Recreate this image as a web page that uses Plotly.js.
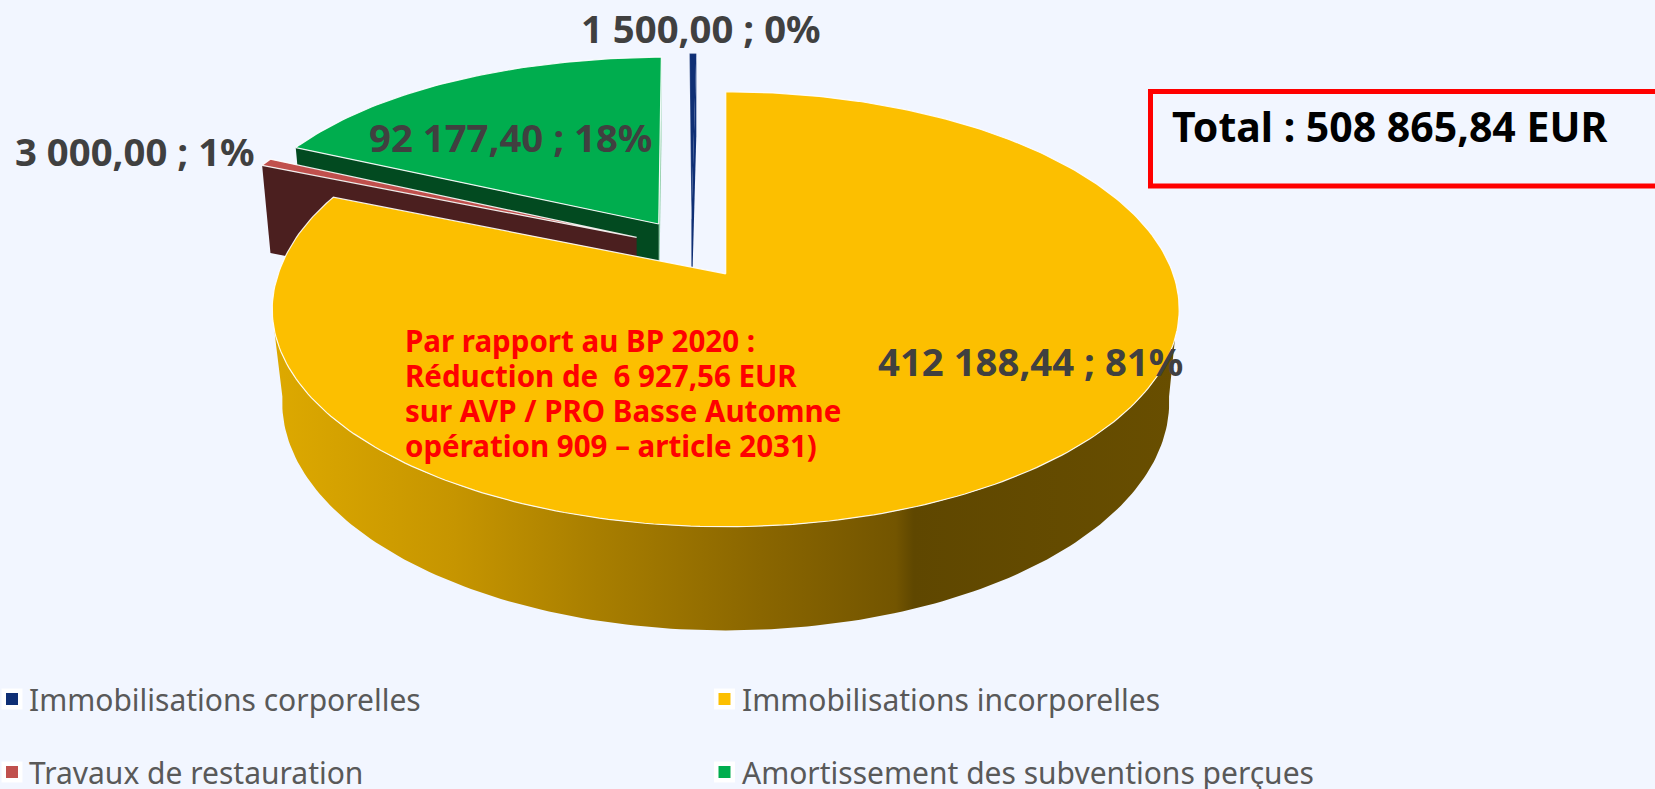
<!DOCTYPE html>
<html><head><meta charset="utf-8">
<script src="https://cdn.plot.ly/plotly-3.0.1.min.js"></script>
<style>html,body{margin:0;padding:0;background:#F2F6FF;overflow:hidden}</style></head>
<body><div id="chart" style="width:1655px;height:789px"></div>
<script>
const categories = ["Immobilisations corporelles","Immobilisations incorporelles","Travaux de restauration","Amortissement des subventions perçues"];
const values = [1500.00, 412188.44, 3000.00, 92177.40];
const totalLabel = "Total : 508 865,84 EUR";
const noteLines = ["Par rapport au BP 2020 :","Réduction de  6 927,56 EUR","sur AVP / PRO Basse Automne","opération 909 – article 2031)"];
const colors = ["#0F2F75","#FCBF00","#C0504D","#00AD4E"];
const wallColors = ["#0F2F75",null,"#4B1F1F","#024A20"];

const total = values.reduce((a,b)=>a+b,0);
const sweep = values.map(v=>v/total*360);
// clockwise from 12 o'clock: yellow starts at 0, then red, green, blue
const start = [];
start[1]=0; start[2]=start[1]+sweep[1]; start[3]=start[2]+sweep[2]; start[0]=start[3]+sweep[3];
const rad = d=>d*Math.PI/180;

// projection of the tilted pie
const R=447.4, Rs=211.7, k=0.163, xv=726, cx0=692, cy0=249, ex=60, ey=30;
const botSx=0.978, botSy=1.05, botDy=91;
function geom(i){
  const mid=start[i]+sweep[i]/2, ub=Math.sin(rad(mid)), vb=Math.cos(rad(mid));
  return {ax:cx0+ex*ub, ay:cy0-ey*vb,
          sx:1-0.027*(vb+0.827), sy:1-0.05*(vb+0.827)};
}
function pt(g,theta,bottom){
  const u=Math.sin(rad(theta)), v=Math.cos(rad(theta)), w=1/(1+k*v);
  const bx=bottom?botSx:1, by=bottom?botSy:1, dy=bottom?botDy:0;
  const lift=(u<0&&v>0)?13*v*(1-v):0;
  return [g.ax+bx*g.sx*R*u*w+(g.ax-xv)*(w-1), g.ay+dy-by*g.sy*Rs*v*w-lift];
}
function arc(g,a,b,bottom){
  const n=Math.max(2,Math.ceil(Math.abs(b-a)/1)), out=[];
  for(let j=0;j<=n;j++) out.push(pt(g,a+(b-a)*j/n,bottom));
  return out;
}
function poly(pts,opt){
  return Object.assign({type:'scatter',mode:'lines',x:pts.map(p=>p[0]),y:pts.map(p=>p[1]),
    fill:'toself',hoverinfo:'skip',showlegend:false,line:{width:0}},opt);
}
function cutWall(g,theta,color){
  const p=pt(g,theta,false), q=pt(g,theta,true);
  return poly([[g.ax,g.ay],p,q,[g.ax,g.ay+botDy]],{fillcolor:color});
}
function topFace(i,g){
  const pts=[[g.ax,g.ay]].concat(arc(g,start[i],start[i]+sweep[i],false)); pts.push([g.ax,g.ay]);
  return poly(pts,{fillcolor:colors[i],line:{color:'rgba(255,255,255,0.9)',width:1.2}});
}
const traces=[];
// blue
let g=geom(0);
traces.push(cutWall(g,start[0]+sweep[0],wallColors[0]));
traces.push(poly([[g.ax,g.ay]].concat(arc(g,start[0],start[0]+sweep[0],false)),{fillcolor:colors[0],line:{color:'rgba(255,255,255,0.35)',width:0.6}}));
// green
g=geom(3);
traces.push(cutWall(g,start[3]+sweep[3],'#8FCFA8'));
traces.push(cutWall(g,start[3],wallColors[3]));
traces.push(topFace(3,g));
// red
g=geom(2);
traces.push(cutWall(g,start[2],wallColors[2]));
traces.push(topFace(2,g));
// yellow
g=geom(1);
const wallPts=arc(g,107,255.5,false).concat(arc(g,262,98,true)); wallPts.push(wallPts[0]);
traces.push(poly(wallPts,{fillgradient:{type:'horizontal',colorscale:[[0,'#DDA900'],[0.2,'#C69500'],[0.36,'#A87E00'],[0.54,'#8A6600'],[0.69,'#735500'],[0.71,'#5F4700'],[1,'#684E00']]},fillcolor:'#A07800'}));
traces.push(topFace(1,g));

// legend swatches
const legX=[12,724.5,12,724.5], legY=[699,699,772,772];
traces.push({type:'scatter',mode:'markers',x:legX,y:legY,hoverinfo:'skip',showlegend:false,
  marker:{symbol:'square',size:21,color:'#FFFFFF'}});
traces.push({type:'scatter',mode:'markers',x:legX,y:legY,hoverinfo:'skip',showlegend:false,
  marker:{symbol:'square',size:12,color:colors}});

const fmt=v=>{const [a,b]=v.toFixed(2).split('.');return a.replace(/\B(?=(\d{3})+$)/g,' ')+','+b;};
const lab=i=>fmt(values[i])+' ; '+Math.round(values[i]/total*100)+'%';
const F='"Noto Sans", sans-serif';
const txt=(x,y,t,size,color,bold,anchor)=>({x,y,xref:'x',yref:'y',text:bold?'<b>'+t+'</b>':t,showarrow:false,
  xanchor:anchor||'left',yanchor:'middle',font:{family:F,size,color},xshift:0,yshift:0});
const annotations=[
  txt(701,28,lab(0),38.3,'#404040',true,'center'),
  txt(1030,361,lab(1),38.3,'#404040',true,'center'),
  txt(134.5,151,lab(2),38.3,'#404040',true,'center'),
  txt(510,137,lab(3),38.3,'#404040',true,'center'),
  txt(1170,126,totalLabel,41,'#000000',true),
];
noteLines.forEach((l,i)=>annotations.push(txt(403,340.5+i*35,l,29.5,'#FF0000',true)));
categories.forEach((c,i)=>annotations.push(txt(i%2?740:27,legY[i],c,30,'#595959',false)));

const layout={width:1655,height:789,margin:{l:0,r:0,t:0,b:0},
  paper_bgcolor:'#F2F6FF',plot_bgcolor:'#F2F6FF',showlegend:false,
  xaxis:{range:[0,1655],visible:false,fixedrange:true},
  yaxis:{range:[789,0],visible:false,fixedrange:true},
  shapes:[{type:'rect',xref:'x',yref:'y',x0:1150.5,y0:91.5,x1:1700,y1:186,line:{color:'#FF0000',width:5}}],
  annotations};
Plotly.newPlot('chart',traces,layout,{displayModeBar:false,staticPlot:true});
</script></body></html>
